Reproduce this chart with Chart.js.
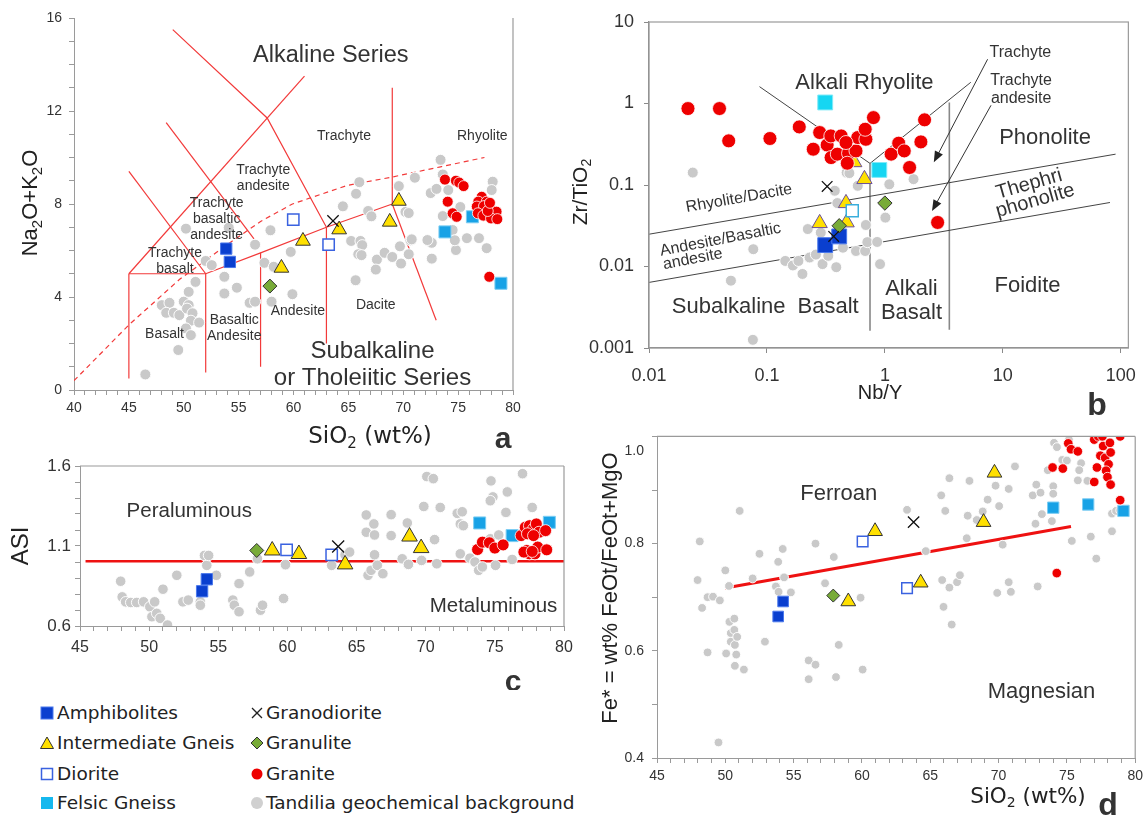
<!DOCTYPE html>
<html>
<head>
<meta charset="utf-8">
<script src="https://cdn.jsdelivr.net/npm/chart.js@4.4.1/dist/chart.umd.min.js"></script>
<style>
html,body{margin:0;padding:0;background:#fff;}
body{width:1148px;height:820px;position:relative;overflow:hidden;font-family:"Liberation Sans",Arial,sans-serif;}
.panel{position:absolute;}
.lg{position:absolute;font-family:"DejaVu Sans",Verdana,sans-serif;font-size:18.5px;color:#222;line-height:22px;white-space:nowrap;}
.mk{position:absolute;}
</style>
</head>
<body>
<div class="panel" style="left:0;top:0;width:560px;height:460px"><canvas id="chA"></canvas></div>
<div class="panel" style="left:560px;top:0;width:588px;height:420px"><canvas id="chB"></canvas></div>
<div class="panel" style="left:0;top:440px;width:600px;height:250px"><canvas id="chC"></canvas></div>
<div class="panel" style="left:590px;top:420px;width:558px;height:400px"><canvas id="chD"></canvas></div>
<div id="legend"></div>
<script>
const FONT = '"Liberation Sans", Arial, Helvetica, sans-serif';
const WFONT = '"DejaVu Sans", Verdana, sans-serif';

// ================= DATA =================
// ---- Panel a: TAS (SiO2 vs Na2O+K2O) ----
const tasAmphibolites = [[53.87,6.08],[54.2,5.51]];
const tasIntermediate = [[58.9,5.25],[60.86,6.41],[64.16,6.9],[68.77,7.23],[69.6,8.13]];
const tasDiorite = [[59.98,7.33],[63.2,6.25]];
const tasGranodiorite = [[63.6,7.27]];
const tasGranulite = [[57.85,4.47]];
const tasFelsic = [[73.8,6.8],[76.3,7.45],[78.9,4.59]];
const tasGranite = [[73.8,9.05],[74.8,9.0],[75.1,8.92],[75.5,8.77],[74.05,8.1],[74.5,7.6],[74.87,7.45],[77.84,4.87],
  [77.15,8.31],[76.84,8.1],[77.6,8.1],[76.7,7.89],[77.36,7.91],[77.96,7.81],[78.5,7.67],[76.8,7.6],[77.3,7.5],
  [78.0,7.38],[78.57,7.35],[77.7,7.7],[77.9,8.05]];
const tasBackground = [[46.5,0.67],[48.0,3.65],[48.7,3.75],[48.4,3.32],[49.1,3.32],[49.6,3.22],[50.0,3.8],[50.45,3.65],
  [50.3,3.5],[50.8,3.3],[50.65,2.98],[51.4,2.9],[50.2,2.65],[50.65,2.36],[49.5,1.72],[50.45,4.22],[51.07,4.65],[50.2,6.94],
  [52.0,5.55],[52.55,5.37],[53.7,4.87],[53.7,4.15],[54.1,6.98],[54.84,4.4],[56.5,6.25],[57.35,5.47],[57.9,6.87],[58.2,5.3],
  [56.0,3.75],[56.5,3.8],[58.0,3.8],[59.9,4.12],[59.75,5.94],[64.5,7.9],[65.25,6.41],[65.7,8.44],[66.0,8.94],[66.1,6.41],
  [66.26,6.23],[65.9,5.84],[66.2,5.8],[65.66,4.72],[66.8,7.7],[67.1,7.47],[67.6,5.61],[67.5,5.18],[68.3,5.9],[69.0,5.72],
  [69.8,5.44],[69.7,6.18],[69.6,8.77],[70.2,7.66],[70.5,7.61],[70.65,6.44],[70.5,5.84],[71.06,9.13],[72.3,6.41],[72.6,5.65],
  [72.6,6.33],[72.5,8.47],[73.4,9.9],[73.03,8.65],[73.6,9.27],[74.1,8.6],[73.6,7.48],[74.5,6.88],[74.8,6.02],[74.7,6.44],
  [75.2,7.87],[75.8,6.53],[76.9,6.53],[77.6,6.1],[78.15,8.96],[78.06,8.6],[70.77,6.48],[72.2,6.45]];
// TAS classification boundaries
const tasBoundaries = [
  [[45,0.5],[45,5]],
  [[45,5],[52,5],[57,5.9],[63,7],[69,8]],
  [[52,5],[52,0.75]],
  [[57,5.9],[57,1.0]],
  [[63,7],[63,2.0]],
  [[69,8],[69,13]],
  [[69,8],[73,3]],
  [[45,5],[61,13.5]],
  [[45,9.4],[52,5]],
  [[48.4,11.5],[56.4,6.5]],
  [[49,15.5],[57.6,11.7],[63,7]]
];
const tasAlkalineDivide = [[40,0.4],[45,2.8],[49.6,4.75],[53.65,6.15],[57,7.25],[59.9,8.0],[64.9,8.8],[69,9.16],[73.4,9.6],[77.4,10.0]];
const aXTickLabels = [40,45,50,55,60,65,70,75,80];
const aYTickLabels = [0,4,8,12,16];

// ---- Panel b: Nb/Y vs Zr/TiO2 ----
const bGranite = [[0.0214,0.867],[0.0396,0.867],[0.0474,0.348],[0.106,0.372],[0.188,0.516],[0.28,0.44],[0.247,0.275],
  [0.324,0.31],[0.348,0.40],[0.426,0.40],[0.35,0.217],[0.395,0.239],[0.492,0.245],[0.48,0.185],[0.569,0.262],[0.589,0.382],
  [0.69,0.364],[0.681,0.483],[0.8,0.671],[0.468,0.332],[1.13,0.239],[1.31,0.326],[1.46,0.262],[1.62,0.164],[2.02,0.338],
  [2.17,0.63],[2.8,0.0347]];
const bFelsic = [[0.312,1.03],[0.897,0.153]];
const bIntermediate = [[0.671,0.118],[0.468,0.0598],[0.28,0.034],[0.474,0.0347],[0.55,0.19]];
const bDiorite = [[0.529,0.0482]];
const bGranodiorite = [[0.324,0.096],[0.368,0.0234]];
const bGranulite = [[1.0,0.06],[0.41,0.0316]];
const bAmphibolites = [[0.312,0.0183],[0.41,0.0234]];
const bBackground = [[0.0235,0.142],[0.0766,0.0163],[0.0495,0.0067],[0.076,0.00126],[0.143,0.0117],[0.166,0.0103],
  [0.2,0.0081],[0.185,0.0117],[0.23,0.0129],[0.222,0.0288],[0.296,0.0107],[0.387,0.0098],[0.331,0.0135],[0.441,0.017],
  [0.569,0.0155],[0.68,0.0155],[0.71,0.0199],[0.86,0.02],[0.91,0.0107],[0.69,0.0323],[0.589,0.0977],[0.474,0.142],
  [1.01,0.0398],[1.09,0.102],[1.75,0.118],[0.376,0.085],[0.395,0.06],[0.286,0.026],[0.26,0.014],[0.5,0.14]];
const bBoundaries = [
  [[0.0865,1.61],[0.748,0.184]],
  [[0.748,0.184],[5.35,1.82]],
  [[0.01,0.0249],[90.4,0.239]],
  [[0.01,0.00638],[81,0.061]]
];
const bVerticals = [[[0.748,0.184],[0.748,0.00163]],[[3.52,1.03],[3.52,0.00167]]];
const bArrows = [[[7.43,3.49],[2.6,0.19]],[[7.94,0.95],[2.51,0.048]]];
const bXTicks = [0.01,0.1,1,10,100];
const bYTicks = [0.001,0.01,0.1,1,10];

// ---- Panel c: SiO2 vs ASI ----
const cAmphibolites = [[54.17,0.892],[53.83,0.817]];
const cIntermediate = [[58.9,1.072],[60.83,1.05],[64.17,0.985],[68.83,1.159],[69.67,1.087]];
const cDiorite = [[59.94,1.076],[63.2,1.045]];
const cGranodiorite = [[63.67,1.097]];
const cGranulite = [[57.78,1.072]];
const cFelsic = [[73.9,1.244],[76.25,1.165],[78.94,1.248]];
const cGranite = [[73.75,1.078],[74.1,1.124],[74.6,1.12],[75.0,1.087],[75.6,1.107],[76.9,1.165],[77.2,1.217],[77.5,1.227],
  [77.8,1.207],[78.0,1.238],[78.2,1.186],[78.67,1.196],[77.36,1.176],[77.8,1.165],[77.3,1.072],[77.5,1.051],[77.9,1.051],
  [78.1,1.093],[78.75,1.076],[77.1,1.062],[77.7,1.066]];
const cBackground = [[47.94,0.88],[48.05,0.782],[48.3,0.751],[48.67,0.747],[49.1,0.747],[49.6,0.751],[50.05,0.72],
  [50.4,0.751],[50.2,0.658],[50.55,0.679],[50.8,0.648],[51.33,0.606],[51.0,0.83],[52.0,0.917],[52.44,0.751],[52.83,0.762],
  [53.7,0.751],[53.7,0.73],[54.0,1.041],[54.17,0.979],[54.3,1.041],[54.86,0.917],[56.05,0.762],[56.16,0.73],[56.5,0.689],
  [56.5,0.865],[57.27,0.938],[57.83,1.02],[58.05,0.699],[58.2,0.73],[59.72,0.772],[59.86,0.983],[63.2,0.979],[64.17,1.045],
  [64.5,1.062],[65.7,1.294],[65.7,1.186],[65.83,0.917],[66.05,0.948],[66.25,1.238],[66.3,1.169],[66.3,1.045],[66.5,0.979],
  [66.9,0.927],[67.5,1.296],[67.5,1.165],[68.3,1.02],[68.67,1.244],[68.75,0.985],[69.7,1.01],[70.08,1.534],[70.55,1.521],
  [69.86,1.347],[71.05,1.341],[70.64,1.14],[70.8,0.989],[72.28,1.304],[72.64,1.314],[72.5,1.238],[72.72,1.227],[72.5,1.051],
  [73.2,1.024],[73.56,1.0],[73.83,0.948],[74.1,0.969],[74.67,1.145],[75.05,0.979],[74.72,1.507],[74.86,1.407],[74.67,1.383],
  [75.9,1.438],[75.8,1.31],[75.28,1.169],[76.25,1.016],[77.0,1.552],[77.7,1.341]];
const cBoundary = [[45.4,1.005],[80,1.005]];
const cXTickLabels = [45,50,55,60,65,70,75,80];
const cYTickLabels = [0.6,1.1,1.6];

// ---- Panel d: SiO2 vs Fe* ----
const dAmphibolites = [[53.87,0.664],[54.23,0.692]];
const dIntermediate = [[60.96,0.823],[59.0,0.692],[64.3,0.727],[68.9,0.84],[69.7,0.932]];
const dDiorite = [[60.05,0.804],[63.3,0.717]];
const dGranodiorite = [[63.78,0.84]];
const dGranulite = [[57.9,0.703]];
const dFelsic = [[74.0,0.867],[76.56,0.873],[79.14,0.861]];
const dGranite = [[74.26,0.745],[73.95,0.942],[74.7,0.94],[75.1,0.987],[75.3,0.976],[75.8,0.972],[77.0,0.994],[77.3,1.0],
  [77.6,1.0],[78.9,1.0],[77.0,0.915],[77.2,0.942],[77.45,0.964],[77.65,0.982],[77.8,0.96],[78.15,0.988],[78.2,0.97],
  [78.05,0.948],[77.87,0.936],[77.97,0.924],[78.2,0.91],[78.9,0.881]];
const dBackground = [[47.97,0.732],[48.13,0.804],[48.3,0.68],[48.7,0.70],[48.7,0.597],[49.1,0.701],[49.6,0.694],[49.5,0.429],
  [50.0,0.75],[50.06,0.595],[50.27,0.721],[50.3,0.654],[50.4,0.633],[50.4,0.617],[50.66,0.66],[50.66,0.639],[50.7,0.611],
  [50.8,0.593],[50.7,0.572],[50.87,0.626],[51.05,0.861],[51.36,0.565],[52.0,0.735],[52.5,0.781],[52.9,0.617],[53.7,0.72],
  [53.87,0.766],[53.9,0.71],[54.2,0.79],[54.3,0.737],[54.8,0.709],[56.1,0.582],[56.1,0.547],[56.6,0.574],[56.6,0.80],
  [57.3,0.726],[57.94,0.775],[58.1,0.551],[58.3,0.611],[59.9,0.699],[60.05,0.565],[63.3,0.863],[64.67,0.786],[65.8,0.89],
  [65.87,0.732],[65.97,0.682],[66.1,0.861],[66.4,0.922],[66.4,0.718],[66.57,0.649],[66.96,0.728],[67.17,0.741],[67.67,0.81],
  [67.74,0.852],[67.87,0.917],[68.4,0.844],[68.84,0.86],[69.2,0.882],[69.78,0.908],[69.9,0.708],[70.04,0.87],[70.3,0.798],
  [70.74,0.902],[70.74,0.728],[70.9,0.71],[71.2,0.944],[72.5,0.89],[72.76,0.91],[72.7,0.837],[72.86,0.72],[73.07,0.895],
  [73.17,0.855],[73.6,0.937],[73.9,0.842],[74.0,0.907],[74.0,0.893],[74.06,0.988],[74.27,0.98],[74.66,0.956],[75.0,0.955],
  [75.15,0.994],[75.36,0.805],[75.8,0.918],[76.04,0.95],[75.9,0.937],[76.5,0.917],[76.75,0.813],[77.15,0.772],[78.3,0.856],
  [78.3,0.823],[78.6,0.861],[78.9,0.862]];
const dBoundary = [[50,0.717],[75.3,0.832]];
const dXTickLabels = [45,50,55,60,65,70,75,80];
const dYTickLabels = [0.4,0.6,0.8];

// ================= HELPERS =================
function pts(a){ return a.map(p=>({x:p[0],y:p[1]})); }
function range(a,b,s){ const r=[]; for(let v=a; v<=b+1e-9; v+=s) r.push(Math.round(v*1000)/1000); return r; }
function isIn(list,v){ return list.some(l=>Math.abs(l-v)<1e-9); }

const C = {
  gray:'#c9c9c9', red:'#ee0000', amph:'#0a3fcf', amphB:'#4a78ec', yel:'#ffe000', felsic:'#18a2e6', felsicB:'#7ccdf3',
  cyan:'#16d6f2', dior:'#3a62e0', green:'#78ab38'
};
function sGray(r){ return {pointStyle:'circle',pointRadius:r,backgroundColor:C.gray,borderColor:'rgba(255,255,255,0.95)',borderWidth:1,order:20}; }
function sRed(r){ return {pointStyle:'circle',pointRadius:r,backgroundColor:C.red,borderColor:'rgba(255,255,255,0.8)',borderWidth:1,order:1}; }
function sAmph(r){ return {pointStyle:'rect',pointRadius:r,backgroundColor:C.amph,borderColor:C.amphB,borderWidth:1,order:5}; }
function sInter(r,bc){ return {pointStyle:'triangle',pointRadius:r,backgroundColor:C.yel,borderColor:bc||'#333',borderWidth:1,order:4}; }
function sDior(r,bc){ return {pointStyle:'rect',pointRadius:r,backgroundColor:'#fff',borderColor:bc||C.dior,borderWidth:1.5,order:3}; }
function sGranod(r){ return {pointStyle:'crossRot',pointRadius:r,backgroundColor:'#111',borderColor:'#111',borderWidth:1.3,order:2}; }
function sGranul(r){ return {pointStyle:'rectRot',pointRadius:r,backgroundColor:C.green,borderColor:'#333',borderWidth:1,order:3}; }
function sFelsic(r,bg,bc){ return {pointStyle:'rect',pointRadius:r,backgroundColor:bg||C.felsic,borderColor:bc||C.felsicB,borderWidth:1,order:2}; }
function sLine(col,w,dash){ return {showLine:true,pointRadius:0,borderColor:col,borderWidth:w,borderDash:dash||[],fill:false,tension:0,order:30}; }
function ds(data,style){ return Object.assign({data:pts(data)},style); }

function linAxis(min,max,ticks,labels,fmt,fs,tl,pad,fit,isX){
  return {
    type:'linear',min,max,
    afterBuildTicks:s=>{ s.ticks=ticks.map(v=>({value:v})); },
    afterFit:s=>{ if(isX) s.height=fit; else s.width=fit; },
    ticks:{autoSkip:false,maxRotation:0,minRotation:0,padding:pad,color:'#333',font:{family:FONT,size:fs},
      callback:v=>isIn(labels,v)?fmt(v):''},
    grid:{drawOnChartArea:false,drawTicks:true,tickLength:tl,color:'#9a9a9a'},
    border:{display:true,color:'#9a9a9a',width:1}
  };
}
function logAxis(min,max,ticks,fs,tl,pad,fit,isX){
  return {
    type:'logarithmic',min,max,
    afterBuildTicks:s=>{ s.ticks=ticks.map(v=>({value:v})); },
    afterFit:s=>{ if(isX) s.height=fit; else s.width=fit; },
    ticks:{autoSkip:false,maxRotation:0,minRotation:0,padding:pad,color:'#333',font:{family:FONT,size:fs},
      callback:v=>String(v)},
    grid:{drawOnChartArea:false,drawTicks:true,tickLength:tl,color:'#8a8a8a'},
    border:{display:true,color:'#8a8a8a',width:1.2}
  };
}

function drawLabel(ctx,text,x,y,o){
  const size=o.size||14, lines=String(text).split('\n'), lh=o.lh||size*1.15;
  ctx.save(); ctx.translate(x,y); ctx.rotate((o.rot||0)*Math.PI/180);
  ctx.font=(o.bold?'bold ':'')+size+'px '+(o.family||FONT); ctx.fillStyle=o.color||'#333';
  ctx.textAlign=o.align||'center'; ctx.textBaseline='middle';
  lines.forEach((ln,i)=>ctx.fillText(ln,0,(i-(lines.length-1)/2)*lh));
  ctx.restore();
}
function drawRich(ctx,parts,x,y,o){
  const size=o.size||18, sub=Math.round(size*0.66), fam=o.family||FONT;
  const fN=(o.bold?'bold ':'')+size+'px '+fam, fS=sub+'px '+fam;
  ctx.save(); ctx.translate(x,y); ctx.rotate((o.rot||0)*Math.PI/180);
  let w=0; parts.forEach(p=>{ ctx.font=p[1]?fS:fN; w+=ctx.measureText(p[0]).width; });
  let cx=o.align==='right'?-w:-w/2; ctx.fillStyle=o.color||'#222'; ctx.textBaseline='middle'; ctx.textAlign='left';
  parts.forEach(p=>{ ctx.font=p[1]?fS:fN; ctx.fillText(p[0],cx,p[1]?size*0.3:0); cx+=ctx.measureText(p[0]).width; });
  ctx.restore();
}

const txtPlugin = {
  id:'txt',
  afterDatasetsDraw(chart,args,o){
    const ctx=chart.ctx, xs=chart.scales.x, ys=chart.scales.y, a=chart.chartArea;
    ctx.save();
    ctx.strokeStyle='#9a9a9a'; ctx.lineWidth=1.2;
    if(o.frame==='box'){ ctx.strokeRect(a.left,a.top,a.right-a.left,a.bottom-a.top); }
    if(o.frame==='right'||o.frame==='topright'){ ctx.beginPath(); ctx.moveTo(a.right,a.top); ctx.lineTo(a.right,a.bottom); ctx.stroke(); }
    if(o.frame==='topright'){ ctx.beginPath(); ctx.moveTo(a.left,a.top); ctx.lineTo(a.right,a.top); ctx.stroke(); }
    (o.arrows||[]).forEach(ar=>{
      const x1=xs.getPixelForValue(ar[0][0]), y1=ys.getPixelForValue(ar[0][1]);
      const x2=xs.getPixelForValue(ar[1][0]), y2=ys.getPixelForValue(ar[1][1]);
      const ang=Math.atan2(y2-y1,x2-x1), L=11, W=4.5;
      ctx.strokeStyle='#333'; ctx.lineWidth=1; ctx.beginPath(); ctx.moveTo(x1,y1); ctx.lineTo(x2-Math.cos(ang)*L*0.8,y2-Math.sin(ang)*L*0.8); ctx.stroke();
      ctx.fillStyle='#222'; ctx.beginPath(); ctx.moveTo(x2,y2);
      ctx.lineTo(x2-Math.cos(ang)*L+Math.sin(ang)*W, y2-Math.sin(ang)*L-Math.cos(ang)*W);
      ctx.lineTo(x2-Math.cos(ang)*L-Math.sin(ang)*W, y2-Math.sin(ang)*L+Math.cos(ang)*W);
      ctx.closePath(); ctx.fill();
    });
    (o.items||[]).forEach(it=>drawLabel(ctx,it.t,xs.getPixelForValue(it.x),ys.getPixelForValue(it.y),it));
    (o.abs||[]).forEach(it=>drawRich(ctx,it.parts,it.px-o.ox,it.py-o.oy,it));
    ctx.restore();
  }
};

function makeChart(id,datasets,scales,padding,txt){
  return new Chart(document.getElementById(id),{
    type:'scatter',
    data:{datasets},
    options:{
      responsive:true,maintainAspectRatio:false,animation:false,events:[],
      layout:{padding},
      plugins:{legend:{display:false},tooltip:{enabled:false},txt},
      scales
    },
    plugins:[txtPlugin]
  });
}

// ================= PANEL A =================
{
  const dsets=[];
  tasBoundaries.forEach(l=>dsets.push(ds(l,sLine('#f23a3a',1.2))));
  dsets.push(ds(tasAlkalineDivide,sLine('#f23a3a',1.2,[5,4])));
  dsets.push(ds(tasBackground,sGray(5.5)));
  dsets.push(ds(tasAmphibolites,sAmph(8)));
  dsets.push(ds(tasIntermediate,sInter(8.5)));
  dsets.push(ds(tasDiorite,sDior(8)));
  dsets.push(ds(tasGranodiorite,sGranod(8)));
  dsets.push(ds(tasGranulite,sGranul(7)));
  dsets.push(ds(tasFelsic,sFelsic(8.5)));
  dsets.push(ds(tasGranite,sRed(5.5)));
  makeChart('chA',dsets,{
    x:linAxis(40,80,range(40,80,1),aXTickLabels,v=>String(v),14,5,5,30,true),
    y:linAxis(0,16,range(0,16,1),aYTickLabels,v=>String(v),14,5,7,74,false)
  },{left:0,top:18,right:47,bottom:40},{
    frame:'right',ox:0,oy:0,
    items:[
      {t:'Alkaline Series',x:63.4,y:14.4,size:23.5},
      {t:'Trachyte',x:64.6,y:10.9,size:14},
      {t:'Rhyolite',x:77.2,y:10.9,size:14},
      {t:'Trachyte\nandesite',x:57.25,y:9.1,size:14,lh:16},
      {t:'Trachyte\nbasaltic\nandesite',x:53.0,y:7.33,size:14,lh:16},
      {t:'Trachyte\nbasalt',x:49.2,y:5.55,size:14,lh:16},
      {t:'Basalt',x:48.25,y:2.4,size:14},
      {t:'Basaltic\nAndesite',x:54.6,y:2.65,size:14,lh:16},
      {t:'Andesite',x:60.4,y:3.4,size:14},
      {t:'Dacite',x:67.5,y:3.65,size:14},
      {t:'Subalkaline\nor Tholeiitic Series',x:67.2,y:1.08,size:24,lh:27}
    ],
    abs:[
      {parts:[['SiO',0],['2',1],[' (wt%)',0]],px:370,py:437,size:23,family:WFONT},
      {parts:[['Na',0],['2',1],['O+K',0],['2',1],['O',0]],px:31,py:203,size:22,rot:-90},
      {parts:[['a',0]],px:503,py:440,size:30,bold:true,color:'#333'}
    ]
  });
}

// ================= PANEL B =================
{
  const dsets=[];
  bBoundaries.forEach(l=>dsets.push(ds(l,sLine('#444',1))));
  bVerticals.forEach(l=>dsets.push(ds(l,sLine('#888',1.6))));
  dsets.push(ds(bBackground,sGray(5.5)));
  dsets.push(ds(bAmphibolites,sAmph(10.5)));
  dsets.push(ds(bIntermediate,sInter(8.8,'#6a4f9a')));
  dsets.push(ds(bDiorite,sDior(8.5,'#3aaedc')));
  dsets.push(ds(bGranodiorite,sGranod(7.5)));
  dsets.push(ds(bGranulite,sGranul(7.2)));
  dsets.push(ds(bFelsic,sFelsic(10.5,C.cyan,'#7eeaf8')));
  dsets.push(ds(bGranite,sRed(7)));
  makeChart('chB',dsets,{
    x:logAxis(0.01,116,bXTicks,18,5,12,40,true),
    y:logAxis(0.001,10,bYTicks,18,5,10,89,false)
  },{left:0,top:22,right:14,bottom:32},{
    frame:'box',ox:560,oy:0,arrows:bArrows,
    items:[
      {t:'Alkali Rhyolite',x:0.671,y:1.80,size:22},
      {t:'Trachyte',x:14.1,y:4.2,size:16},
      {t:'Trachyte\nandesite',x:14.3,y:1.47,size:16,lh:18},
      {t:'Phonolite',x:22.8,y:0.382,size:22},
      {t:'Thephri',x:16.7,y:0.102,size:20,rot:-16},
      {t:'phonolite',x:18.8,y:0.064,size:20,rot:-16},
      {t:'Rhyolite/Dacite',x:0.058,y:0.0684,size:16,rot:-10},
      {t:'Andesite/Basaltic',x:0.0404,y:0.0213,size:16,rot:-11},
      {t:'andesite',x:0.0235,y:0.0123,size:16,rot:-11},
      {t:'Subalkaline',x:0.0474,y:0.00316,size:22},
      {t:'Basalt',x:0.33,y:0.00316,size:22},
      {t:'Alkali\nBasalt',x:1.68,y:0.0038,size:22,lh:24},
      {t:'Foidite',x:16.2,y:0.0058,size:22}
    ],
    abs:[
      {parts:[['Nb/Y',0]],px:880,py:393,size:20},
      {parts:[['Zr/TiO',0],['2',1]],px:581,py:192,size:21,rot:-90},
      {parts:[['b',0]],px:1097,py:406,size:32,bold:true,color:'#333'}
    ]
  });
}

// ================= PANEL C =================
{
  const dsets=[];
  dsets.push(ds(cBoundary,sLine('#ee1111',2.5)));
  dsets.push(ds(cBackground,sGray(5.3)));
  dsets.push(ds(cAmphibolites,sAmph(8)));
  dsets.push(ds(cIntermediate,sInter(9)));
  dsets.push(ds(cDiorite,sDior(8)));
  dsets.push(ds(cGranodiorite,sGranod(8.5)));
  dsets.push(ds(cGranulite,sGranul(7)));
  dsets.push(ds(cFelsic,sFelsic(8.5)));
  dsets.push(ds(cGranite,sRed(6)));
  makeChart('chC',dsets,{
    x:linAxis(45,80,range(45,80,1),cXTickLabels,v=>String(v),16,5,7,28,true),
    y:linAxis(0.6,1.6,range(0.6,1.6,0.1),cYTickLabels,v=>v.toFixed(1),17,5,4,80,false)
  },{left:0,top:26,right:36,bottom:36},{
    frame:'topright',ox:0,oy:440,
    items:[
      {t:'Peraluminous',x:52.9,y:1.314,size:20.5},
      {t:'Metaluminous',x:74.9,y:0.72,size:20.5}
    ],
    abs:[
      {parts:[['ASI',0]],px:21,py:546,size:24,rot:-90},
      {parts:[['c',0]],px:513,py:683,size:30,bold:true,color:'#333'}
    ]
  });
}

// ================= PANEL D =================
{
  const dsets=[];
  dsets.push(ds(dBoundary,sLine('#ee1111',3)));
  dsets.push(ds(dBackground,sGray(4.4)));
  dsets.push(ds(dAmphibolites,sAmph(7.5)));
  dsets.push(ds(dIntermediate,sInter(8.5)));
  dsets.push(ds(dDiorite,sDior(7.5)));
  dsets.push(ds(dGranodiorite,sGranod(8)));
  dsets.push(ds(dGranulite,sGranul(6.5)));
  dsets.push(ds(dFelsic,sFelsic(8)));
  dsets.push(Object.assign(ds(dGranite,sRed(4.8)),{clip:{left:20,top:0,right:20,bottom:20}}));
  makeChart('chD',dsets,{
    x:linAxis(45,80,range(45,80,1),dXTickLabels,v=>String(v),14,5,5,28,true),
    y:linAxis(0.4,1.0,range(0.4,1.0,0.1),dYTickLabels,v=>v.toFixed(1),14,5,8,67,false)
  },{left:0,top:12,right:10,bottom:34},{
    frame:'topright',ox:590,oy:420,
    items:[
      {t:'Ferroan',x:58.3,y:0.892,size:22},
      {t:'Magnesian',x:73.14,y:0.524,size:22}
    ],
    abs:[
      {parts:[['1.0',0]],px:644,py:451,size:14,align:'right',color:'#333'},
      {parts:[['SiO',0],['2',1],[' (wt%)',0]],px:1028,py:797,size:21.5,family:WFONT},
      {parts:[['Fe* = wt% FeOt/FeOt+MgO',0]],px:611,py:588,size:22,rot:-90},
      {parts:[['d',0]],px:1108,py:806,size:32,bold:true,color:'#333'}
    ]
  });
}

// ================= LEGEND =================
const legendItems = [
  {label:'Amphibolites', col:0, row:0, mk:'<rect x="1" y="1" width="12" height="12" fill="#0a3fcf" stroke="#4a78ec"/>'},
  {label:'Intermediate Gneis', col:0, row:1, mk:'<polygon points="7,1 13.5,12.5 0.5,12.5" fill="#ffe000" stroke="#333" stroke-width="1"/>'},
  {label:'Diorite', col:0, row:2, mk:'<rect x="1.5" y="1.5" width="11" height="11" fill="#fff" stroke="#3a62e0" stroke-width="1.5"/>'},
  {label:'Felsic Gneiss', col:0, row:3, mk:'<rect x="1" y="1" width="12" height="12" fill="#16b8ee"/>'},
  {label:'Granodiorite', col:1, row:0, mk:'<path d="M2,2 L12,12 M12,2 L2,12" stroke="#222" stroke-width="1.3"/>'},
  {label:'Granulite', col:1, row:1, mk:'<polygon points="7,1 13,7 7,13 1,7" fill="#78ab38" stroke="#333" stroke-width="1"/>'},
  {label:'Granite', col:1, row:2, mk:'<circle cx="7" cy="7" r="5.5" fill="#ee0000"/>'},
  {label:'Tandilia geochemical background', col:1, row:3, mk:'<circle cx="7" cy="7" r="6" fill="#d0d0d0"/>'}
];
const legendRowY = [713,743,774,803];
const legendColX = [[40,57],[250,266]];
{
  const host=document.getElementById('legend');
  legendItems.forEach(it=>{
    const y=legendRowY[it.row], cx=legendColX[it.col];
    const m=document.createElement('div'); m.className='mk';
    m.style.left=cx[0]+'px'; m.style.top=(y-7)+'px';
    m.innerHTML='<svg width="14" height="14" viewBox="0 0 14 14">'+it.mk+'</svg>';
    host.appendChild(m);
    const t=document.createElement('div'); t.className='lg';
    t.style.left=cx[1]+'px'; t.style.top=(y-11)+'px'; t.textContent=it.label;
    host.appendChild(t);
  });
}
</script>
</body>
</html>
